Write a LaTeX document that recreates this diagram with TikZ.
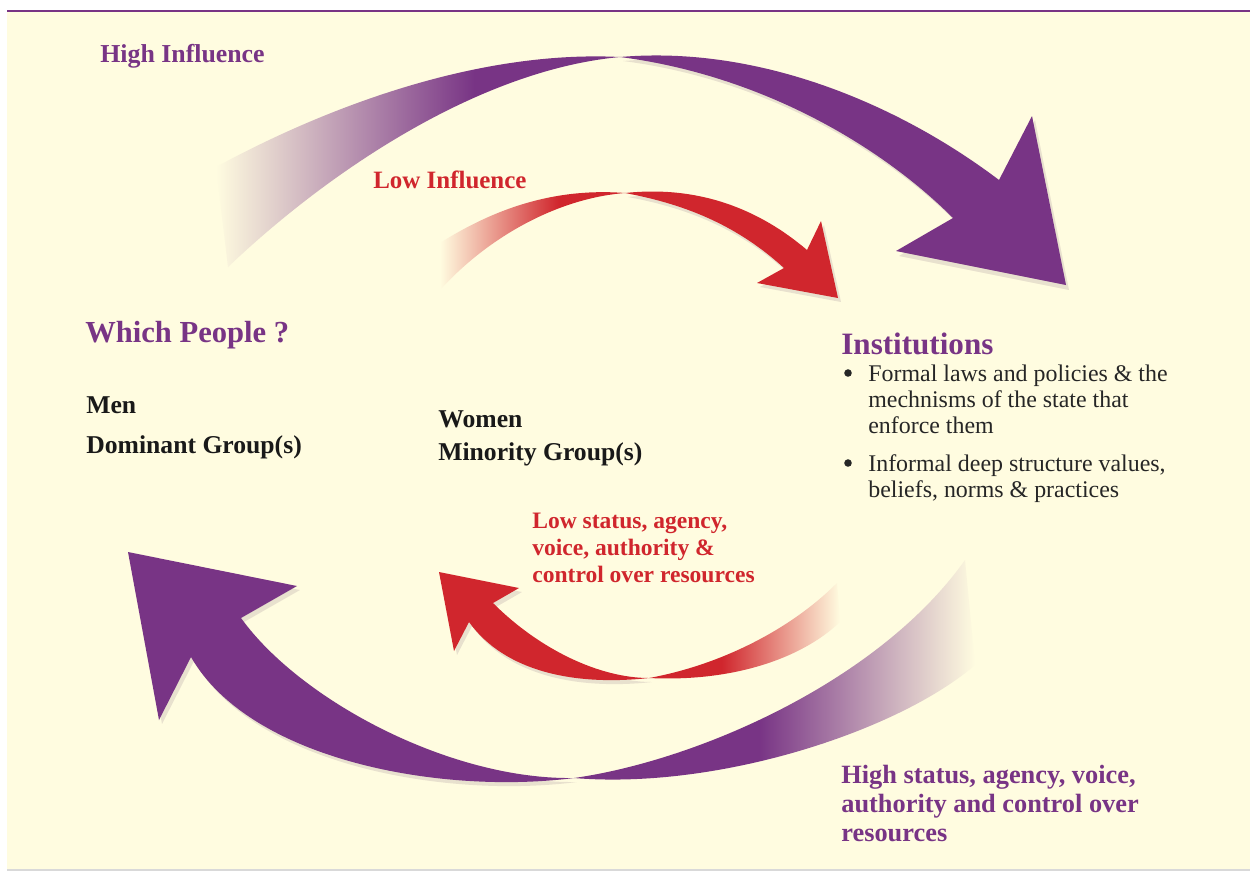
\documentclass[tikz,border=0pt]{standalone}
\usepackage{fontspec}
\setmainfont{Liberation Serif}
\usepackage{tikz}
\definecolor{infpurple}{HTML}{783485}
\definecolor{infred}{HTML}{D0262D}
\definecolor{cream}{HTML}{FFFCE0}
\pgfdeclarehorizontalshading{purpleup}{100bp}{color(0bp)=(cream); color(25bp)=(cream); color(57bp)=(infpurple); color(100bp)=(infpurple)}
\pgfdeclarehorizontalshading{redup}{100bp}{color(0bp)=(cream); color(25bp)=(cream); color(57bp)=(infred); color(100bp)=(infred)}
\pgfdeclarehorizontalshading{purpledown}{100bp}{color(0bp)=(infpurple); color(48bp)=(infpurple); color(75bp)=(cream); color(100bp)=(cream)}
\pgfdeclarehorizontalshading{reddown}{100bp}{color(0bp)=(infred); color(44bp)=(infred); color(75bp)=(cream); color(100bp)=(cream)}

\begin{document}
\begin{tikzpicture}[x=0.02cm,y=-0.02cm,
  lab/.style={inner sep=0pt,anchor=base west,align=left},
  hilab/.style={lab,text=infpurple,font=\fontsize{14.7}{17}\selectfont\bfseries},
  lolab/.style={lab,text=infred,font=\fontsize{14.2}{17}\selectfont\bfseries},
  head/.style={lab,text=infpurple,font=\fontsize{17.4}{20}\selectfont\bfseries},
  grp/.style={lab,text=black!90,font=\fontsize{14.6}{17}\selectfont\bfseries},
  body/.style={lab,text=black!85,font=\fontsize{13.6}{14.6}\selectfont},
  dot/.style={circle,fill=black!85,inner sep=0pt,minimum size=4.3pt},
  shadow/.style={fill=infpurple!60!black,opacity=0.12}]
\useasboundingbox (0,0) rectangle (1250,873);
\fill[cream] (7,11) rectangle (1250,869);
\draw[infpurple,line width=1.7pt] (7,11) -- (1250,11);
\draw[black!15,line width=1pt] (7,870) -- (1250,870);

\fill[shadow] (623,61) .. controls (763,49) and (903,109) .. (1002,184) -- (1035,120) -- (1069,290) -- (899,256) -- (956,222) .. controls (883,149) and (763,79) .. (623,61) -- cycle;
\shade[shading=purpleup] (216,167) .. controls (330,105) and (480,50) .. (620,57) .. controls (480,70) and (330,170) .. (228,267) -- cycle;
\fill[infpurple] (620,57) .. controls (760,45) and (900,105) .. (999,180) -- (1032,116) -- (1066,285) -- (896,251) -- (953,218) .. controls (880,145) and (760,75) .. (620,57) -- cycle;

\fill[shadow] (628,197) .. controls (703,189) and (763,214) .. (810,254) -- (824,225) -- (841,302) -- (760,287) -- (787,272) .. controls (743,232) and (693,209) .. (628,197) -- cycle;
\shade[shading=redup] (440,243) .. controls (500,205) and (560,188) .. (625,193) .. controls (560,198) and (490,235) .. (440,290) -- cycle;
\fill[infred] (625,193) .. controls (700,185) and (760,210) .. (807,250) -- (821,221) -- (838,298) -- (757,283) -- (784,268) .. controls (740,228) and (690,205) .. (625,193) -- cycle;

\fill[shadow] (244,622) .. controls (303,704) and (453,784) .. (577,782) .. controls (443,799) and (253,764) .. (194,661) -- (162,724) -- (131,556) -- (300,590) -- cycle;
\fill[infpurple] (241,618) .. controls (300,700) and (450,780) .. (574,778) .. controls (440,795) and (250,760) .. (191,657) -- (159,720) -- (128,552) -- (297,586) -- cycle;
\shade[shading=purpledown] (574,778) .. controls (700,760) and (880,680) .. (965,560) -- (975,665) .. controls (900,730) and (720,790) .. (574,778) -- cycle;

\fill[shadow] (496,607) .. controls (543,654) and (603,682) .. (652,682) .. controls (578,690) and (508,676) .. (472,626) -- (457,655) -- (442,576) -- (522,592) -- cycle;
\fill[infred] (493,603) .. controls (540,650) and (600,678) .. (649,678) .. controls (575,686) and (505,672) .. (469,622) -- (454,651) -- (439,572) -- (519,588) -- cycle;
\shade[shading=reddown] (649,678) .. controls (720,665) and (790,630) .. (837,583) -- (840,622) .. controls (800,660) and (730,682) .. (649,678) -- cycle;

\node[hilab] (hiinf) at (100,62) {High Influence};
\node[lolab] (loinf) at (373,188) {Low Influence};
\node[head] (which) at (85,342) {Which People ?};
\node[grp] (men) at (86,413) {Men};
\node[grp] (domgrp) at (86,453) {Dominant Group(s)};
\node[grp] (women) at (438,427) {Women};
\node[grp] (mingrp) at (438,460) {Minority Group(s)};
\node[head,font=\fontsize{17.7}{20}\selectfont\bfseries] (inst) at (841,354) {Institutions};
\node[dot] (dot1) at (848,373) {};
\node[body] (formal) at (868,433) {Formal laws and policies \& the\\mechnisms of the state that\\enforce them};
\node[dot] (dot2) at (848,463) {};
\node[body] (informal) at (868,497) {Informal deep structure values,\\beliefs, norms \& practices};
\node[lolab,font=\fontsize{13.4}{15.3}\selectfont\bfseries] (lostat) at (532,582) {Low status, agency,\\voice, authority \&\\control over resources};
\node[hilab,font=\fontsize{15}{16.4}\selectfont\bfseries] (histat) at (841,841) {High status, agency, voice,\\authority and control over\\resources};
\end{tikzpicture}
\end{document}
